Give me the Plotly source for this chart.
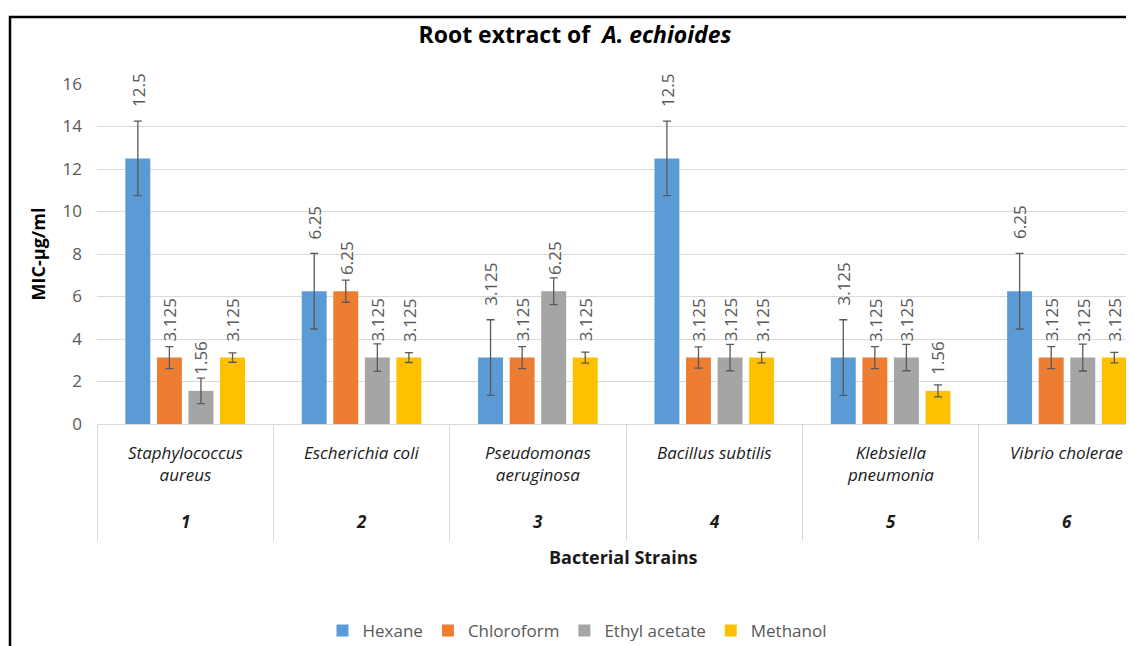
import plotly.graph_objects as go

# ---- data ----
strains = ["Staphylococcus aureus", "Escherichia coli", "Pseudomonas aeruginosa",
           "Bacillus subtilis", "Klebsiella pneumonia", "Vibrio cholerae"]
strain_labels = ["Staphylococcus<br>aureus", "Escherichia coli", "Pseudomonas<br>aeruginosa",
                 "Bacillus subtilis", "Klebsiella<br>pneumonia", "Vibrio cholerae"]
strain_numbers = ["1", "2", "3", "4", "5", "6"]

series_names = ["Hexane", "Chloroform", "Ethyl acetate", "Methanol"]
hexane = [12.5, 6.25, 3.125, 12.5, 3.125, 6.25]
chloroform = [3.125, 6.25, 3.125, 3.125, 3.125, 3.125]
ethyl_acetate = [1.56, 3.125, 6.25, 3.125, 3.125, 3.125]
methanol = [3.125, 3.125, 3.125, 3.125, 1.56, 3.125]

hexane_err = [1.75, 1.78, 1.78, 1.75, 1.78, 1.78]
chloroform_err = [0.52, 0.52, 0.52, 0.5, 0.52, 0.52]
ethyl_acetate_err = [0.6, 0.65, 0.63, 0.62, 0.62, 0.63]
methanol_err = [0.22, 0.23, 0.26, 0.25, 0.28, 0.25]

label_texts = [
    ["12.5", "6.25", "3.125", "12.5", "3.125", "6.25"],
    ["3.125", "6.25", "3.125", "3.125", "3.125", "3.125"],
    ["1.56", "3.125", "6.25", "3.125", "3.125", "3.125"],
    ["3.125", "3.125", "3.125", "3.125", "1.56", "3.125"],
]

yticks = [0, 2, 4, 6, 8, 10, 12, 14, 16]

# ---- style ----
colors = ["#5B9BD5", "#ED7D31", "#A5A5A5", "#FFC000"]
values = [hexane, chloroform, ethyl_acetate, methanol]
errors = [hexane_err, chloroform_err, ethyl_acetate_err, methanol_err]
FONT = "Open Sans"
BARGAP = 0.284
BARGROUPGAP = 0.21

# page body adds an 8px offset; work in reference-pixel coordinates
OFF = 8
W, H = 1134 - OFF, 646 - OFF
PLOT_L, PLOT_R, PLOT_T, PLOT_B = 97, 1134, 84, 424  # reference pixels
ML = PLOT_L - OFF
MR = 1134 - PLOT_R
MT = PLOT_T - OFF
MB = (646 - PLOT_B)
plot_w = PLOT_R - PLOT_L
plot_h = PLOT_B - PLOT_T


def px_to_paper_x(px):
    return (px - PLOT_L) / plot_w


def px_to_paper_y(py):
    return (PLOT_B - py) / plot_h


fig = go.Figure()
for name, vals, errs, col in zip(series_names, values, errors, colors):
    fig.add_trace(go.Bar(
        name=name, x=strains, y=vals, marker=dict(color=col, line=dict(width=0)),
        error_y=dict(type="data", array=errs, visible=True, color="#595959",
                     thickness=1.3, width=4),
    ))

# rotated data labels
n_series = len(series_names)
slot = (1 - BARGAP) / n_series
annotations = []
for k, (vals, errs, texts) in enumerate(zip(values, errors, label_texts)):
    for i, (v, e, t) in enumerate(zip(vals, errs, texts)):
        xpos = i + (k - (n_series - 1) / 2) * slot
        if k == 0:
            base, shift = v + e, 12
        else:
            base, shift = v, 14
        annotations.append(dict(
            x=xpos, y=base, xref="x", yref="y", text=t, showarrow=False,
            textangle=-90, xanchor="center", yanchor="bottom", yshift=shift,
            font=dict(family=FONT, size=17, color="#595959"),
        ))

# category labels (two-level axis)
for i, (lab, num) in enumerate(zip(strain_labels, strain_numbers)):
    annotations.append(dict(
        x=i, y=px_to_paper_y(439), xref="x", yref="paper", text="<i>" + lab + "</i>",
        showarrow=False, xanchor="center", yanchor="top",
        font=dict(family=FONT, size=17, color="#1a1a1a"),
    ))
    annotations.append(dict(
        x=i, y=px_to_paper_y(521), xref="x", yref="paper", text="<b><i>" + num + "</i></b>",
        showarrow=False, xanchor="center", yanchor="middle",
        font=dict(family=FONT, size=17, color="#1a1a1a"),
    ))

annotations.append(dict(
    x=px_to_paper_x(623), y=px_to_paper_y(557), xref="paper", yref="paper",
    text="<b>Bacterial Strains</b>", showarrow=False, xanchor="center", yanchor="middle",
    font=dict(family=FONT, size=18, color="#1a1a1a"),
))

fig.update_layout(
    width=W, height=H,
    margin=dict(l=ML, r=MR, t=MT, b=MB, autoexpand=False),
    paper_bgcolor="white", plot_bgcolor="white",
    barmode="group", bargap=BARGAP, bargroupgap=BARGROUPGAP,
    title=dict(text="<b>Root extract of  <i>A. echioides</i></b>",
               x=(575 - OFF) / W, xanchor="center",
               y=1 - (35 - OFF) / H, yanchor="middle", yref="container",
               font=dict(family=FONT, size=23, color="#000000")),
    font=dict(family=FONT),
    showlegend=True,
    legend=dict(orientation="h", x=px_to_paper_x(577), xanchor="center",
                y=px_to_paper_y(631), yanchor="middle",
                font=dict(family=FONT, size=17, color="#595959"),
                traceorder="normal"),
    annotations=annotations,
    shapes=[dict(type="rect", xref="paper", yref="paper",
                 x0=px_to_paper_x(10), x1=px_to_paper_x(1250),
                 y0=px_to_paper_y(700), y1=px_to_paper_y(17),
                 line=dict(color="black", width=2.5), fillcolor="rgba(0,0,0,0)", layer="above")],
)

fig.update_xaxes(
    type="category", range=[-0.5, 5.38], showticklabels=False,
    ticks="outside", tickson="boundaries", ticklen=116, tickcolor="#d9d9d9", tickwidth=1,
    showline=True, linecolor="#d9d9d9", linewidth=1, showgrid=False, zeroline=False,
)
fig.update_yaxes(
    range=[0, 16], tickvals=yticks, showgrid=True, gridcolor="#d9d9d9", gridwidth=1,
    zeroline=False, showline=False, ticks="", ticklabelstandoff=14,
    tickfont=dict(family=FONT, size=17, color="#595959"),
    title=dict(text="<b>MIC-µg/ml</b>", font=dict(family=FONT, size=18, color="#000000"),
               standoff=12),
)

fig.write_html("out.html")
